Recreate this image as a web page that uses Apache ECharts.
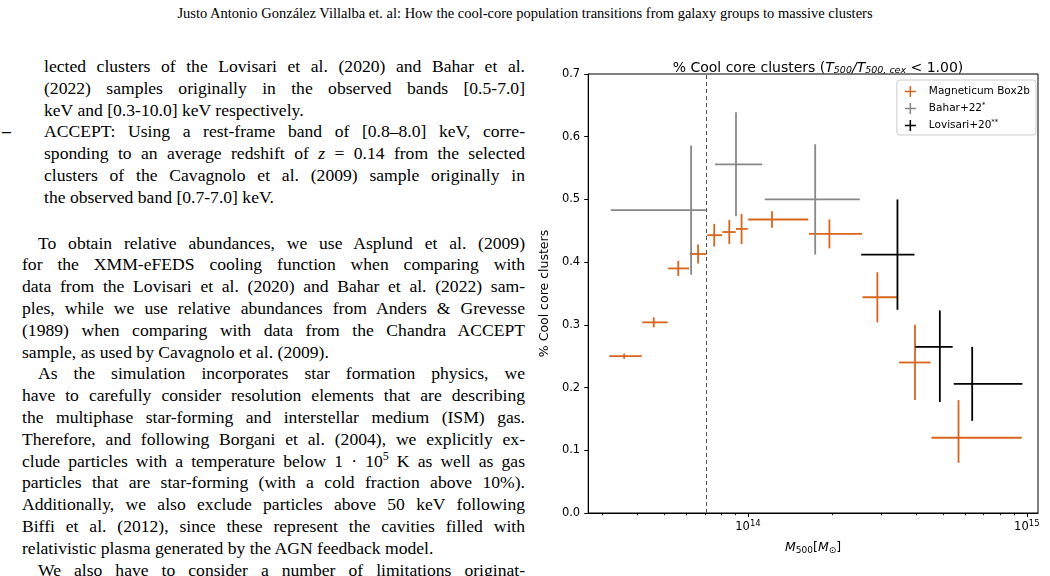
<!DOCTYPE html>
<html><head><meta charset="utf-8">
<script src="https://cdn.jsdelivr.net/npm/echarts@6/dist/echarts.min.js"></script>
<style>
body{margin:0;width:1050px;height:576px;background:#fff;position:relative;overflow:hidden;font-family:"Liberation Serif","DejaVu Serif",serif;color:#000}
#hdr{position:absolute;top:5px;left:0;width:1050px;text-align:center;font-size:14.5px}
.ln{position:absolute;left:22px;width:503px;box-sizing:border-box;font-size:17.6px;line-height:20px;white-space:nowrap;text-align:justify;text-align-last:justify}
.ln.nj{text-align-last:left}
.ln.in{padding-left:22px}
.ln.par{text-indent:16px}
.dash{position:absolute;left:-20px}
#chart{position:absolute;left:530px;top:0;width:520px;height:576px}
</style></head><body>
<div id="hdr">Justo Antonio González Villalba et. al: How the cool-core population transitions from galaxy groups to massive clusters</div>
<div id="txt"></div>
<div id="chart"></div>
<script>
// log10(M500) : centre, left, right ; fraction : value, low, high
const magLogM = [13.556, 13.662, 13.750, 13.821, 13.879, 13.933, 13.977, 14.086, 14.292, 14.464, 14.599, 14.755];
const magLeft = [13.503, 13.621, 13.714, 13.791, 13.854, 13.908, 13.957, 14.001, 14.219, 14.411, 14.542, 14.658];
const magRight = [13.619, 13.712, 13.789, 13.852, 13.907, 13.956, 13.999, 14.216, 14.409, 14.535, 14.655, 14.982];
const magFrac = [0.250, 0.304, 0.390, 0.413, 0.443, 0.448, 0.453, 0.468, 0.445, 0.344, 0.240, 0.120];
const magLow = [0.246, 0.296, 0.378, 0.398, 0.425, 0.429, 0.429, 0.455, 0.422, 0.304, 0.180, 0.080];
const magHigh = [0.254, 0.312, 0.402, 0.428, 0.461, 0.467, 0.477, 0.481, 0.468, 0.384, 0.300, 0.180];

const baharLogM = [13.796, 13.957, 14.241];
const baharLeft = [13.508, 13.882, 14.060];
const baharRight = [13.849, 14.051, 14.401];
const baharFrac = [0.483, 0.556, 0.500];
const baharLow = [0.380, 0.473, 0.412];
const baharHigh = [0.586, 0.639, 0.588];

const lovLogM = [14.536, 14.688, 14.804];
const lovLeft = [14.406, 14.600, 14.738];
const lovRight = [14.597, 14.734, 14.984];
const lovFrac = [0.412, 0.265, 0.206];
const lovLow = [0.324, 0.177, 0.147];
const lovHigh = [0.500, 0.323, 0.265];

const cutLogM = 13.852;
const majorTicks = [14, 15];
const minorTicks = [];
[13, 14].forEach(d => { for (let k = 2; k <= 9; k++) minorTicks.push(d + Math.log10(k)); });

// [html, classes]
const textLines = [
  ['lected clusters of the Lovisari et al. (2020) and Bahar et al.', 'in'],
  ['(2022) samples originally in the observed bands [0.5-7.0]', 'in'],
  ['keV and [0.3-10.0] keV respectively.', 'in nj'],
  ['<span class="dash"><b>–</b></span>ACCEPT: Using a rest-frame band of [0.8–8.0] keV, corre-', 'in'],
  ['sponding to an average redshift of <i>z</i> = 0.14 from the selected', 'in'],
  ['clusters of the Cavagnolo et al. (2009) sample originally in', 'in'],
  ['the observed band [0.7-7.0] keV.', 'in nj'],
  null,
  ['To obtain relative abundances, we use Asplund et al. (2009)', 'par'],
  ['for the XMM-eFEDS cooling function when comparing with', ''],
  ['data from the Lovisari et al. (2020) and Bahar et al. (2022) sam-', ''],
  ['ples, while we use relative abundances from Anders &amp; Grevesse', ''],
  ['(1989) when comparing with data from the Chandra ACCEPT', ''],
  ['sample, as used by Cavagnolo et al. (2009).', 'nj'],
  ['As the simulation incorporates star formation physics, we', 'par'],
  ['have to carefully consider resolution elements that are describing', ''],
  ['the multiphase star-forming and interstellar medium (ISM) gas.', ''],
  ['Therefore, and following Borgani et al. (2004), we explicitly ex-', ''],
  ['clude particles with a temperature below 1 · 10<sup style="font-size:12px;line-height:0">5</sup> K as well as gas', ''],
  ['particles that are star-forming (with a cold fraction above 10%).', ''],
  ['Additionally, we also exclude particles above 50 keV following', ''],
  ['Biffi et al. (2012), since these represent the cavities filled with', ''],
  ['relativistic plasma generated by the AGN feedback model.', 'nj'],
  ['We also have to consider a number of limitations originat-', 'par']
];
const tx = document.getElementById('txt');
let ty = 56;
textLines.forEach(l => {
  if (l) {
    const d = document.createElement('div');
    d.className = 'ln ' + l[1];
    d.style.top = ty + 'px';
    d.innerHTML = l[0];
    tx.appendChild(d);
  }
  ty += l ? 21.8 : 24;
});

const pack = (c, l, r, v, lo, hi) => c.map((x, i) => [x, v[i], l[i], r[i], lo[i], hi[i]]);

const renderBar = (params, api) => {
  const a = api.coord([api.value(2), api.value(1)]);
  const b = api.coord([api.value(3), api.value(1)]);
  const c = api.coord([api.value(0), api.value(4)]);
  const d = api.coord([api.value(0), api.value(5)]);
  const lineStyle = { stroke: api.visual('color'), lineWidth: 1.8 };
  return {
    type: 'group',
    children: [
      { type: 'line', shape: { x1: a[0], y1: a[1], x2: b[0], y2: b[1] }, style: lineStyle },
      { type: 'line', shape: { x1: c[0], y1: c[1], x2: d[0], y2: d[1] }, style: lineStyle }
    ]
  };
};

const plusIcon = 'path://M0,4.3L10,4.3L10,5.7L0,5.7Z M4.3,0L5.7,0L5.7,10L4.3,10Z';
const sans = 'DejaVu Sans';

const chart = echarts.init(document.getElementById('chart'));
chart.setOption({
  animation: false,
  textStyle: { fontFamily: sans },
  title: {
    text: '% Cool core clusters ({i|T}{s|500}{i|/T}{s|500, cex} < 1.00)',
    left: 283, top: 55, textAlign: 'center',
    textStyle: {
      fontSize: 14, fontWeight: 'normal', color: '#000', fontFamily: sans,
      rich: { i: { fontSize: 14, fontStyle: 'italic', fontFamily: sans }, s: { fontSize: 9.5, fontStyle: 'italic', fontFamily: sans, padding: [6, 0, 0, 0] } }
    }
  },
  legend: {
    right: 14, top: 80, orient: 'vertical', itemGap: 5, itemWidth: 11, itemHeight: 11,
    borderColor: '#ccc', borderWidth: 1, borderRadius: 3, padding: [6, 6, 4, 8],
    textStyle: { fontSize: 10.5, color: '#000', fontFamily: sans, padding: [0, 0, 0, 8], rich: { s: { fontSize: 7, padding: [0, 0, 6, 0] } } },
    data: [
      { name: 'Magneticum Box2b', icon: plusIcon },
      { name: 'Bahar+22*', icon: plusIcon },
      { name: 'Lovisari+20**', icon: plusIcon }
    ],
    formatter: n => n.replace(/(\*+)/, '{s|$1}')
  },
  grid: { left: 58, right: 12, top: 74, bottom: 63, show: true, borderColor: '#000', borderWidth: 1 },
  xAxis: [{
    type: 'value', min: 13.427, max: 15.04,
    name: '{i|M}{s|500}[{i|M}{s|⊙}]', nameLocation: 'middle', nameGap: 27,
    nameTextStyle: { fontSize: 12.5, color: '#000', rich: { i: { fontStyle: 'italic', fontSize: 12.5 }, s: { fontSize: 9, padding: [6, 0, 0, 0] } } },
    axisLine: { show: true, onZero: false, lineStyle: { color: '#000' } },
    splitLine: { show: false },
    axisTick: { show: true, customValues: majorTicks, length: 4, lineStyle: { color: '#000' } },
    axisLabel: {
      customValues: majorTicks, color: '#000', fontSize: 11.5, margin: 6,
      formatter: v => '10{s|' + Math.round(v) + '}',
      rich: { s: { fontSize: 8.5, padding: [0, 0, 8, 0] } }
    }
  }, {
    type: 'value', min: 13.427, max: 15.04, position: 'bottom',
    axisLine: { show: false }, splitLine: { show: false },
    axisTick: { show: true, customValues: minorTicks, length: 2.2, lineStyle: { color: '#000' } },
    axisLabel: { show: false }
  }],
  yAxis: {
    type: 'value', min: 0, max: 0.7, interval: 0.1,
    name: '% Cool core clusters', nameLocation: 'middle', nameGap: 34,
    nameTextStyle: { fontSize: 12.5, color: '#000' },
    axisLine: { show: true, lineStyle: { color: '#000' } },
    axisTick: { show: true, length: 4, lineStyle: { color: '#000' } },
    splitLine: { show: false },
    axisLabel: { color: '#000', fontSize: 11.5, formatter: v => v.toFixed(1) }
  },
  series: [
    {
      name: 'Magneticum Box2b', type: 'custom', color: '#d9641c', renderItem: renderBar,
      data: pack(magLogM, magLeft, magRight, magFrac, magLow, magHigh),
      markLine: {
        silent: true, symbol: 'none', label: { show: false },
        lineStyle: { color: '#555', type: [4, 3], width: 1 },
        data: [{ xAxis: cutLogM }]
      }
    },
    { name: 'Bahar+22*', type: 'custom', color: '#888888', renderItem: renderBar, data: pack(baharLogM, baharLeft, baharRight, baharFrac, baharLow, baharHigh) },
    { name: 'Lovisari+20**', type: 'custom', color: '#000000', renderItem: renderBar, data: pack(lovLogM, lovLeft, lovRight, lovFrac, lovLow, lovHigh) }
  ]
});
</script>
</body></html>
